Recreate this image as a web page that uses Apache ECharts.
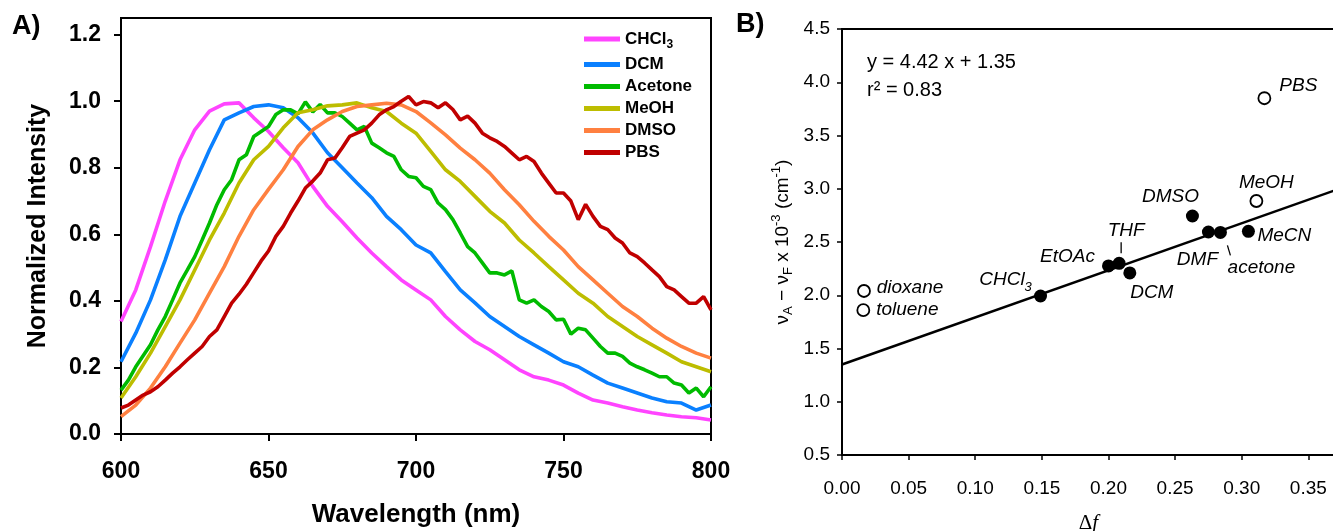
<!DOCTYPE html>
<html><head><meta charset="utf-8">
<script src="https://cdn.jsdelivr.net/npm/echarts@6/dist/echarts.min.js"></script>
<style>html,body{margin:0;padding:0;background:#fff}#c{width:1333px;height:531px}</style>
</head><body><div id="c"></div>
<script>
// ---------- Panel A: normalized emission spectra ----------
const wavelengths = [600,605,610,615,620,625,630,635,640,645,650,655,660,665,670,675,680,685,690,695,700,705,710,715,720,725,730,735,740,745,750,755,760,765,770,775,780,785,790,795,800];
const wavelengthsFine = [600,602.5,605,607.5,610,612.5,615,617.5,620,622.5,625,627.5,630,632.5,635,637.5,640,642.5,645,647.5,
  650,652.5,655,657.5,660,662.5,665,667.5,670,672.5,675,677.5,680,682.5,685,687.5,690,692.5,695,697.5,
  700,702.5,705,707.5,710,712.5,715,717.5,720,722.5,725,727.5,730,732.5,735,737.5,740,742.5,745,747.5,
  750,752.5,755,757.5,760,762.5,765,767.5,770,772.5,775,777.5,780,782.5,785,787.5,790,792.5,795,797.5,800];
const seriesNames = ['CHCl3','DCM','Acetone','MeOH','DMSO','PBS'];
const seriesColors = ['#FF44FF','#0A80FF','#00BB00','#BDBD00','#FF8040','#C00000'];
const chcl3 = [0.338,0.433,0.563,0.700,0.824,0.914,0.970,0.992,0.995,0.950,0.909,0.860,0.815,0.744,0.684,0.638,0.589,0.544,0.503,0.463,0.433,0.403,0.353,0.313,0.278,0.253,0.223,0.193,0.172,0.162,0.147,0.123,0.102,0.093,0.082,0.072,0.064,0.057,0.052,0.049,0.042];
const dcm = [0.217,0.303,0.403,0.523,0.654,0.754,0.854,0.944,0.965,0.984,0.989,0.980,0.950,0.905,0.845,0.800,0.754,0.710,0.654,0.614,0.568,0.544,0.488,0.433,0.394,0.353,0.323,0.293,0.268,0.243,0.217,0.202,0.177,0.153,0.138,0.123,0.108,0.097,0.093,0.072,0.087];
const acetone = [0.132,0.162,0.202,0.235,0.268,0.313,0.353,0.403,0.454,0.493,0.533,0.583,0.634,0.689,0.734,0.764,0.824,0.839,0.894,0.909,
  0.924,0.960,0.974,0.974,0.962,0.998,0.968,0.990,0.965,0.965,0.954,0.934,0.914,0.924,0.874,0.860,0.845,0.834,0.794,0.774,
  0.770,0.744,0.734,0.694,0.674,0.644,0.604,0.563,0.544,0.514,0.484,0.484,0.478,0.490,0.403,0.393,0.403,0.383,0.368,0.343,
  0.345,0.300,0.318,0.313,0.288,0.263,0.243,0.243,0.233,0.213,0.202,0.193,0.183,0.172,0.172,0.153,0.147,0.123,0.138,0.112,0.142];
const meoh = [0.108,0.172,0.243,0.323,0.403,0.493,0.583,0.664,0.754,0.824,0.864,0.920,0.965,0.974,0.986,0.989,0.995,0.980,0.969,0.934,0.904,0.849,0.794,0.759,0.714,0.669,0.634,0.583,0.544,0.503,0.463,0.423,0.393,0.353,0.323,0.293,0.268,0.243,0.217,0.202,0.187];
const dmso = [0.052,0.087,0.138,0.202,0.273,0.343,0.423,0.503,0.594,0.674,0.735,0.794,0.864,0.914,0.944,0.969,0.984,0.989,0.994,0.989,0.969,0.935,0.899,0.859,0.824,0.784,0.734,0.689,0.639,0.594,0.553,0.503,0.463,0.423,0.383,0.353,0.318,0.288,0.263,0.243,0.228];
const pbs = [0.078,0.087,0.102,0.117,0.127,0.142,0.162,0.183,0.202,0.223,0.243,0.263,0.293,0.313,0.353,0.393,0.420,0.450,0.485,0.520,
  0.550,0.594,0.624,0.664,0.700,0.739,0.760,0.784,0.824,0.829,0.860,0.894,0.904,0.914,0.934,0.959,0.974,0.984,1.000,1.014,
  0.989,0.999,0.995,0.980,0.995,0.975,0.944,0.955,0.934,0.904,0.890,0.879,0.864,0.844,0.824,0.834,0.819,0.784,0.754,0.724,
  0.724,0.700,0.644,0.690,0.654,0.624,0.614,0.589,0.574,0.544,0.533,0.514,0.493,0.473,0.443,0.433,0.413,0.393,0.393,0.413,0.373];
const spectra = [chcl3, dcm, acetone, meoh, dmso, pbs];
const spectraX = [wavelengths, wavelengths, wavelengthsFine, wavelengths, wavelengths, wavelengthsFine];
const yTicksA = [0.0,0.2,0.4,0.6,0.8,1.0,1.2];

// ---------- Panel B: Lippert-Mataga plot ----------
const solventNames = ['PBS','MeOH','DMSO','DMF','acetone','MeCN','THF','EtOAc','DCM','CHCl3','dioxane','toluene'];
const deltaF = [0.317,0.311,0.263,0.275,0.284,0.305,0.208,0.200,0.216,0.149,0.0165,0.016];
const stokesShift = [3.85,2.885,2.744,2.594,2.59,2.60,2.30,2.275,2.21,1.993,2.04,1.86];
const excludedFromFit = [true,true,false,false,false,false,false,false,false,false,true,true];
const fitSlope = 4.42, fitIntercept = 1.35;
const xTicksB = [0,0.05,0.10,0.15,0.20,0.25,0.30,0.35];

// label offsets (style only), label centre relative to point centre
const labelOffset = {PBS:[34,-13],MeOH:[10,-18],DMSO:[-22,-19],DMF:[-11,28],acetone:[41,35],MeCN:[36,4],THF:[7,-33],EtOAc:[-41,-9],DCM:[22,20],CHCl3:[-35,-16],dioxane:[46,-3],toluene:[44,0]};

const FONT = 'Liberation Sans, Arial, sans-serif';
const chart = echarts.init(document.getElementById('c'), null, {renderer:'canvas'});

const lineSeries = seriesNames.map((n,i)=>({
  name:n, type:'line', xAxisIndex:0, yAxisIndex:0, showSymbol:false, symbol:'none',
  lineStyle:{width:3.6,color:seriesColors[i]}, itemStyle:{color:seriesColors[i]},
  data: spectraX[i].map((w,j)=>[w, spectra[i][j]]), z:2
}));

function pointData(open){
  const out=[];
  solventNames.forEach((n,i)=>{
    if(excludedFromFit[i]!==open) return;
    out.push({name:n, value:[deltaF[i], stokesShift[i]],
      label:{show:true, position:'inside', offset:labelOffset[n],
        formatter: n==='CHCl3' ? '{i|CHCl}{s|3}' : '{i|'+n+'}'}});
  });
  return out;
}
const ptLabel = {color:'#000', opacity:1, rich:{
  i:{fontFamily:FONT, fontStyle:'italic', fontSize:19, color:'#000', lineHeight:20},
  s:{fontFamily:FONT, fontStyle:'italic', fontSize:13, color:'#000', lineHeight:13, padding:[14,0,0,0]}
}};

const option = {
  animation:false,
  backgroundColor:'#fff',
  grid:[
    {left:121, top:18, width:590, height:416, show:true, borderColor:'#000', borderWidth:2, backgroundColor:'transparent', outerBoundsMode:'none', containLabel:false},
    {left:842, top:29, width:493, height:426, show:true, borderColor:'#000', borderWidth:2, backgroundColor:'transparent', outerBoundsMode:'none', containLabel:false}
  ],
  legend:{
    data:seriesNames, orient:'vertical', left:579, top:22, icon:'rect', itemWidth:36, itemHeight:5, itemGap:5,
    formatter: n => n==='CHCl3' ? '{b|CHCl}{s|3}' : '{b|'+n+'}',
    textStyle:{rich:{
      b:{fontFamily:FONT, fontWeight:'bold', fontSize:17, color:'#000', lineHeight:17},
      s:{fontFamily:FONT, fontWeight:'bold', fontSize:12, color:'#000', lineHeight:12, padding:[12,0,0,0]}
    }}
  },
  xAxis:[
    {gridIndex:0, type:'value', min:600, max:800, interval:50,
      axisLine:{lineStyle:{color:'#000',width:2}}, axisTick:{length:7,lineStyle:{width:2,color:'#000'}},
      splitLine:{show:false},
      axisLabel:{margin:26, fontFamily:FONT, fontWeight:'bold', fontSize:23, color:'#000'},
      name:'Wavelength (nm)', nameLocation:'middle', nameGap:68,
      nameTextStyle:{fontFamily:FONT, fontWeight:'bold', fontSize:26, color:'#000'}},
    {gridIndex:1, type:'value', min:0, max:0.37,
      axisLine:{lineStyle:{color:'#000',width:2}}, axisTick:{length:5,lineStyle:{width:1.5,color:'#000'}, customValues:xTicksB},
      splitLine:{show:false},
      axisLabel:{margin:24, fontFamily:FONT, fontSize:19, color:'#000', customValues:xTicksB, formatter:v=>v.toFixed(2)},
      name:'{d|Δ}{f|f}', nameLocation:'middle', nameGap:58,
      nameTextStyle:{rich:{d:{fontFamily:'Liberation Serif, serif', fontSize:21, color:'#000'}, f:{fontFamily:'Liberation Serif, serif', fontStyle:'italic', fontSize:21, color:'#000'}}}}
  ],
  yAxis:[
    {gridIndex:0, type:'value', min:0, max:1.25,
      axisLine:{lineStyle:{color:'#000',width:2}}, axisTick:{length:7,lineStyle:{width:2,color:'#000'}, customValues:yTicksA},
      splitLine:{show:false},
      axisLabel:{margin:20, fontFamily:FONT, fontWeight:'bold', fontSize:23, color:'#000', customValues:yTicksA, formatter:v=>v.toFixed(1)},
      name:'Normalized Intensity', nameLocation:'middle', nameGap:70,
      nameTextStyle:{fontFamily:FONT, fontWeight:'bold', fontSize:25, color:'#000'}},
    {gridIndex:1, type:'value', min:0.5, max:4.5, interval:0.5,
      axisLine:{lineStyle:{color:'#000',width:2}}, axisTick:{length:5,lineStyle:{width:1.5,color:'#000'}},
      splitLine:{show:false},
      axisLabel:{margin:12, fontFamily:FONT, fontSize:19, color:'#000', formatter:v=>v.toFixed(1)},
      name:'{t|ν}{s|A}{t| − ν}{s|F}{t| x 10}{p|-3}{t| (cm}{p|-1}{t|)}', nameLocation:'middle', nameGap:50,
      nameTextStyle:{rich:{
        t:{fontFamily:FONT, fontSize:19, color:'#000', lineHeight:19},
        s:{fontFamily:FONT, fontSize:13, color:'#000', lineHeight:13, padding:[12,0,0,0]},
        p:{fontFamily:FONT, fontSize:13, color:'#000', lineHeight:13, padding:[0,0,12,0]}
      }}}
  ],
  series:[
    ...lineSeries,
    {type:'line', xAxisIndex:1, yAxisIndex:1, showSymbol:false, symbol:'none', silent:true,
      lineStyle:{color:'#000', width:2.5}, z:1,
      data:[[0, fitIntercept],[0.37, fitSlope*0.37+fitIntercept]]},
    {type:'scatter', name:'fit', xAxisIndex:1, yAxisIndex:1, symbolSize:13, z:3,
      itemStyle:{color:'#000', opacity:1}, label:ptLabel, data:pointData(false)},
    {type:'scatter', name:'excluded', xAxisIndex:1, yAxisIndex:1, symbolSize:12, z:3,
      itemStyle:{color:'#fff', borderColor:'#000', borderWidth:1.8, opacity:1}, label:ptLabel, data:pointData(true)}
  ],
  graphic:[
    {type:'text', left:12, top:13, style:{text:'A)', fontFamily:FONT, fontWeight:'bold', fontSize:27, fill:'#000'}},
    {type:'text', left:736, top:11, style:{text:'B)', fontFamily:FONT, fontWeight:'bold', fontSize:27, fill:'#000'}},
    {type:'text', left:867, top:52, style:{text:'y = 4.42 x + 1.35', fontFamily:FONT, fontSize:20, fill:'#000'}},
    {type:'text', left:867, top:80, style:{text:'r² = 0.83', fontFamily:FONT, fontSize:20, fill:'#000'}}
  ]
};
chart.setOption(option);

// leader lines for THF and acetone labels (relative to their points)
const leaders = [];
[['THF',[2,-21],[2,-10]],['acetone',[7,13],[10,23]]].forEach(([n,a,b])=>{
  const i = solventNames.indexOf(n);
  const p = chart.convertToPixel({gridIndex:1}, [deltaF[i], stokesShift[i]]);
  leaders.push({type:'line', shape:{x1:p[0]+a[0], y1:p[1]+a[1], x2:p[0]+b[0], y2:p[1]+b[1]}, style:{stroke:'#000', lineWidth:1.3}});
});
chart.setOption({graphic: option.graphic.concat(leaders)});
</script></body></html>
